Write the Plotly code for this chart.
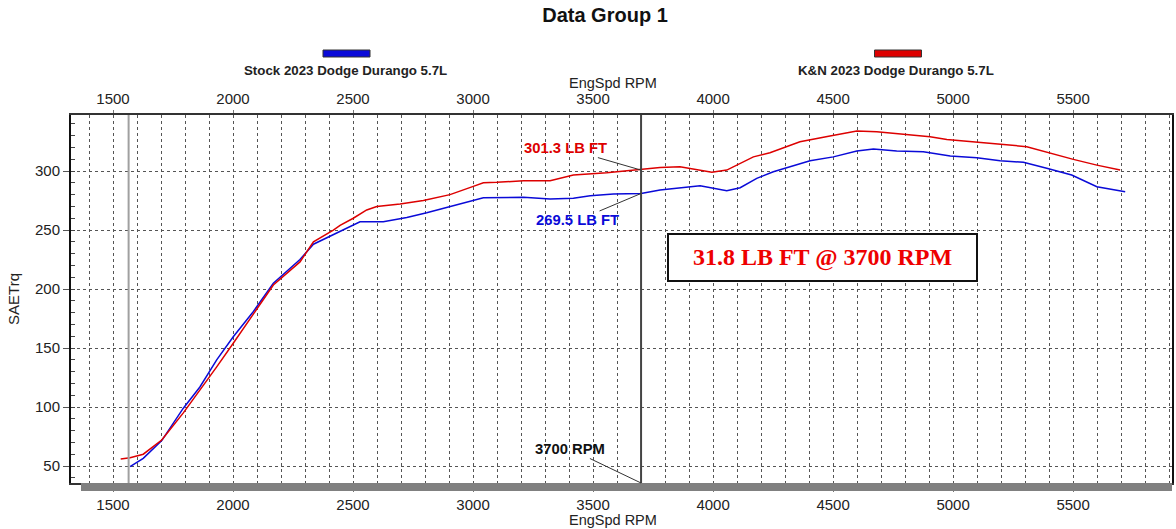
import plotly.graph_objects as go

# ---- data ----
stock_rpm = [1571, 1626, 1703, 1793, 1862, 1932, 2001, 2085, 2168, 2279, 2335, 2418, 2529, 2626,
             2724, 2807, 2904, 3001, 3043, 3210, 3321, 3418, 3488, 3585, 3700, 3779, 3835, 3946,
             4057, 4113, 4182, 4251, 4404, 4501, 4599, 4668, 4765, 4876, 4988, 5099, 5196, 5293,
             5390, 5494, 5599, 5717]
stock_trq = [49.5, 56.5, 71.5, 99, 117, 140, 159.6, 181, 205, 225, 238, 246, 257, 257,
             260.7, 264.7, 269.8, 275.4, 277.4, 277.7, 276.3, 277, 279, 280.5, 281, 284, 285.3, 287.5,
             283.3, 285.9, 293.8, 299.4, 308.7, 312, 317, 318.6, 317, 316.4, 312.7, 311.3, 308.7, 307.4,
             302.3, 296.6, 286.7, 282.5]

kn_rpm = [1532, 1571, 1626, 1703, 1793, 1862, 1932, 2001, 2085, 2168, 2279, 2335, 2418, 2446,
          2501, 2557, 2599, 2696, 2793, 2904, 3001, 3043, 3099, 3210, 3321, 3418, 3557, 3700,
          3779, 3862, 3995, 4057, 4168, 4237, 4362, 4487, 4599, 4682, 4807, 4904, 4974, 5099,
          5210, 5307, 5390, 5501, 5599, 5696]
kn_trq = [56, 57, 60, 72, 95, 114, 134, 154, 179.4, 203.4, 223, 240, 250, 254,
          260, 267, 270, 272, 275, 280, 287, 290, 290.4, 291.8, 291.8, 296.6, 298.6, 301.3,
          303, 303.6, 299, 300.8, 312, 315.5, 324.8, 329.7, 334, 333.3, 331, 329, 326.8, 324.8,
          322.6, 320.6, 315.8, 309.9, 305, 300.8]

series_names = ["Stock 2023 Dodge Durango 5.7L", "K&N 2023 Dodge Durango 5.7L"]
x_ticks = [1500, 2000, 2500, 3000, 3500, 4000, 4500, 5000, 5500]
y_ticks = [50, 100, 150, 200, 250, 300]
x_title = "EngSpd RPM"
cursor_rpm = 1565
marker_rpm = 3700
marker_kn = 301.3
marker_stock = 269.5
marker_stock_curve = 281
gain_text = "31.8 LB FT @ 3700 RPM"

BLUE = "#0A0AD8"
RED = "#DD0000"
FONT = "Liberation Sans"
X_RANGE = [1325, 5912]
Y_RANGE = [35.6, 347.5]

fig = go.Figure()
fig.add_trace(go.Scatter(x=stock_rpm, y=stock_trq, mode="lines", name=series_names[0],
                         line=dict(color=BLUE, width=1.5), showlegend=False))
fig.add_trace(go.Scatter(x=kn_rpm, y=kn_trq, mode="lines", name=series_names[1],
                         line=dict(color=RED, width=1.5), showlegend=False))
# invisible trace for the top axis
fig.add_trace(go.Scatter(x=[X_RANGE[0]], y=[Y_RANGE[0]], xaxis="x2", mode="markers",
                         marker=dict(opacity=0), showlegend=False, hoverinfo="skip"))

grid = dict(showgrid=True, gridcolor="#555555", griddash="dot", gridwidth=1)
xcommon = dict(range=X_RANGE, tickvals=x_ticks, ticks="outside", tickcolor="#777",
               tickfont=dict(family=FONT, size=15, color="#222"), automargin=False,
               minor=dict(dtick=100, tick0=0, showgrid=True, gridcolor="#555555",
                          griddash="dot", gridwidth=1),
               zeroline=False, **grid)

fig.update_layout(
    width=1176, height=529,
    margin=dict(l=71, r=4, t=115, b=46),
    paper_bgcolor="white", plot_bgcolor="white",
    title=dict(text="<b>Data Group 1</b>", x=605/1176, xanchor="center",
               y=1 - 15/529, yanchor="middle",
               font=dict(family=FONT, size=20, color="#111")),
    xaxis=dict(**xcommon, ticklen=7, showline=True, linecolor="#333", linewidth=1.5, mirror=False),
    xaxis2=dict(**xcommon, ticklen=3, overlaying="x", side="top", showline=True, linecolor="#333",
                linewidth=1.5, matches="x"),
    yaxis=dict(range=Y_RANGE, tickvals=y_ticks, ticks="outside", ticklen=6, tickcolor="#555",
               tickfont=dict(family=FONT, size=15, color="#222"), automargin=False,
               showline=True, linecolor="#111", linewidth=2, mirror=True,
               minor=dict(dtick=10, tick0=0, ticks="inside", ticklen=4, tickcolor="#444",
                          showgrid=False),
               zeroline=False,
               title=dict(text="SAETrq", font=dict(family=FONT, size=15, color="#222"),
                          standoff=12),
               **grid),
    showlegend=False,
)

shapes = []
# grey cursor line
shapes.append(dict(type="line", xref="x", yref="paper", x0=cursor_rpm, x1=cursor_rpm, y0=0, y1=1,
                   line=dict(color="#A0A0A0", width=2), layer="above"))
# 3700 rpm marker line
shapes.append(dict(type="line", xref="x", yref="paper", x0=marker_rpm, x1=marker_rpm, y0=0, y1=1,
                   line=dict(color="#444444", width=2), layer="above"))
# grey scroll bar under plot
shapes.append(dict(type="rect", xref="paper", yref="paper", x0=(81-71)/1101, x1=1.0,
                   y0=-8/368, y1=0, fillcolor="#808080", line=dict(width=0), layer="above"))
# legend swatches
for cx, col in [((323+370)/2, BLUE), ((875+921)/2, RED)]:
    shapes.append(dict(type="rect", xref="paper", yref="paper",
                       x0=(cx-23.5-71)/1101, x1=(cx+23.5-71)/1101,
                       y0=(483-57)/368, y1=(483-50)/368,
                       fillcolor=col, line=dict(color="#333", width=1)))
fig.update_layout(shapes=shapes)

ann = []
for cx, name in [(345, series_names[0]), (896, series_names[1])]:
    ann.append(dict(xref="paper", yref="paper", x=(cx-71)/1101, y=(483-70)/368,
                    text="<b>" + name + "</b>", showarrow=False, xanchor="center", yanchor="middle",
                    font=dict(family=FONT, size=13.3, color="#222")))
# axis titles (top and bottom)
for py in [83, 520]:
    ann.append(dict(xref="paper", yref="paper", x=(613-71)/1101, y=(483-py)/368,
                    text=x_title, showarrow=False, xanchor="center", yanchor="middle",
                    font=dict(family=FONT, size=14.5, color="#222")))
ann.append(dict(x=marker_rpm, y=marker_kn - 0.5, xref="x", yref="y", ax=-76, ay=-22,
                text="<b>%.1f LB FT</b>" % marker_kn, showarrow=True, arrowhead=0,
                arrowwidth=1, arrowcolor="#333", font=dict(family=FONT, size=14.8, color=RED)))
ann.append(dict(x=marker_rpm, y=marker_stock_curve, xref="x", yref="y", ax=-64, ay=27,
                text="<b>%.1f LB FT</b>" % marker_stock, showarrow=True, arrowhead=0,
                arrowwidth=1, arrowcolor="#333", font=dict(family=FONT, size=14.8, color=BLUE)))
ann.append(dict(x=marker_rpm, y=0, xref="x", yref="paper", ax=-71, ay=-34,
                text="<b>%d RPM</b>" % marker_rpm, showarrow=True, arrowhead=0,
                arrowwidth=1, arrowcolor="#333", font=dict(family=FONT, size=14.8, color="#111")))
ann.append(dict(x=4456, y=227.1, xref="x", yref="y", text="<b>" + gain_text + "</b>",
                showarrow=False, xanchor="center", yanchor="middle", width=305, height=43,
                bgcolor="white", bordercolor="#111", borderwidth=2, borderpad=1,
                font=dict(family="Liberation Serif", size=24, color="#EE0000")))
fig.update_layout(annotations=ann)

fig.write_html("out.html", config={"displayModeBar": False},
               post_script="document.body.style.margin='0px';document.body.style.overflow='hidden';")
